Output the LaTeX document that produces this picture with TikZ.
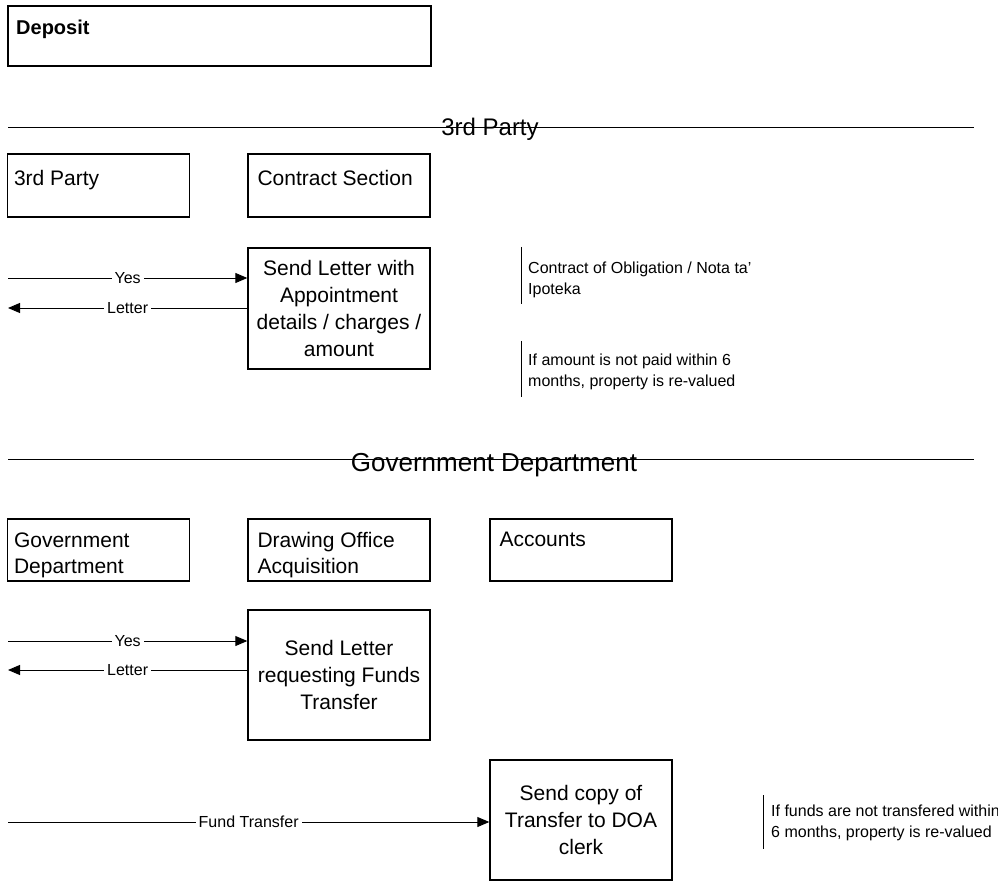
\documentclass[tikz,border=0pt]{standalone}
\usepackage{fontspec}
\setmainfont{Liberation Sans}
\usetikzlibrary{arrows.meta}
\begin{document}
\begin{tikzpicture}[x=1pt,y=-1pt,
  box/.style={draw, line width=1.4pt, inner sep=0pt, minimum width=182pt, minimum height=63pt},
  boxtext/.style={font=\fontsize{21}{26}\selectfont, align=left, inner sep=0pt, anchor=north west},
  steptext/.style={font=\fontsize{21}{27}\selectfont, align=center},
  flow/.style={line width=0.9pt},
  tip/.style={-{Triangle[length=12pt,width=10pt]}},
  flowlabel/.style={font=\fontsize{16}{19}\selectfont, fill=white, inner xsep=3pt, inner ysep=1pt},
  notetext/.style={font=\fontsize{16}{21}\selectfont, align=left, anchor=north west, inner sep=0pt},
  lane/.style={line width=0.9pt},
  lanetitle/.style={anchor=base, inner sep=0pt}
]
\clip (0,0) rectangle (998,882);
\useasboundingbox (0,0) rectangle (998,882);

% title box
\node[box, line width=2pt, minimum width=423pt, minimum height=60pt,
      label={[boxtext, font=\fontsize{20}{24}\selectfont\bfseries, xshift=9pt, yshift=-15pt]north west:Deposit}]
  (deposit) at (219.5,36) {};

% ---- lane: 3rd Party ----
\coordinate (laneA-l) at (8,127);
\coordinate (laneA-r) at (974,127);
\draw[lane] (laneA-l) -- (laneA-r);
\node[lanetitle, font=\fontsize{24}{28}\selectfont] (laneA) at (490,136) {3rd Party};

\node[box, label={[boxtext, xshift=7pt, yshift=-17pt]north west:3rd Party}] (party) at (98.5,185.5) {};
\node[box, label={[boxtext, xshift=10pt, yshift=-17pt]north west:Contract Section}] (contract) at (339,185.5) {};

\node[box, minimum height=121pt, steptext] (s1) at (339,308.5)
  {Send Letter with\\Appointment\\details / charges /\\amount};

\coordinate (in1) at (8,278);
\coordinate (out1) at (8,308);
\draw[flow, tip] (in1) -- (in1 -| s1.west) node[midway, flowlabel] {Yes};
\draw[flow, tip] (out1 -| s1.west) -- (out1) node[midway, flowlabel] {Letter};

% notes
\coordinate (n1a) at (521,247);
\coordinate (n1b) at (521,304);
\draw[flow] (n1a) -- (n1b);
\node[notetext] (note1) at (528,262) {Contract of Obligation / Nota ta'\\Ipoteka};
\coordinate (n2a) at (521,341);
\coordinate (n2b) at (521,397);
\draw[flow] (n2a) -- (n2b);
\node[notetext] (note2) at (528,354) {If amount is not paid within 6\\months, property is re-valued};

% ---- lane: Government Department ----
\coordinate (laneB-l) at (8,459);
\coordinate (laneB-r) at (974,459);
\draw[lane] (laneB-l) -- (laneB-r);
\node[lanetitle, font=\fontsize{26}{30}\selectfont] (laneB) at (494,471) {Government Department};

\node[box, minimum height=62pt, label={[boxtext, xshift=7pt, yshift=-14pt]north west:Government\\Department}] (gov) at (98.5,550) {};
\node[box, minimum height=62pt, label={[boxtext, xshift=10pt, yshift=-14pt]north west:Drawing Office\\Acquisition}] (doa) at (339,550) {};
\node[box, minimum height=62pt, label={[boxtext, xshift=10pt, yshift=-14pt]north west:Accounts}] (acc) at (581,550) {};

\node[box, minimum height=130pt, steptext] (s2) at (339,675)
  {Send Letter\\requesting Funds\\Transfer};

\coordinate (in2) at (8,641);
\coordinate (out2) at (8,670);
\draw[flow, tip] (in2) -- (in2 -| s2.west) node[midway, flowlabel] {Yes};
\draw[flow, tip] (out2 -| s2.west) -- (out2) node[midway, flowlabel] {Letter};

\node[box, minimum height=120pt, steptext] (s3) at (581,820)
  {Send copy of\\Transfer to DOA\\clerk};

\coordinate (in3) at (8,822);
\draw[flow, tip] (in3) -- (in3 -| s3.west) node[midway, flowlabel] {Fund Transfer};

\coordinate (n3a) at (763,795);
\coordinate (n3b) at (763,849);
\draw[flow] (n3a) -- (n3b);
\node[notetext] (note3) at (771,805) {If funds are not transfered within\\6 months, property is re-valued};
\end{tikzpicture}
\end{document}
